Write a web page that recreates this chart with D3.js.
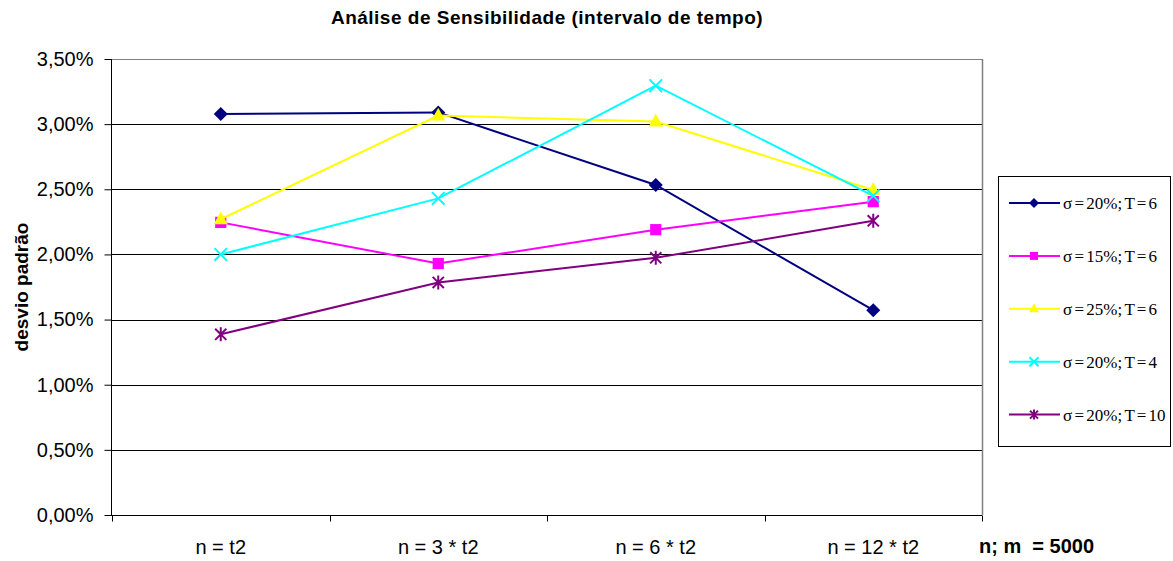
<!DOCTYPE html>
<html>
<head>
<meta charset="utf-8">
<script src="https://cdn.jsdelivr.net/npm/d3@7"></script>
<style>
  html, body { margin: 0; padding: 0; background: #fff; }
  svg { display: block; font-family: Arial, "Liberation Sans", sans-serif; }
</style>
</head>
<body>
<svg id="chart" width="1173" height="561"></svg>
<script>
// Categories along the x axis
const categories = ["n = t2", "n = 3 * t2", "n = 6 * t2", "n = 12 * t2"];

// Standard deviation per series (fractions)
const seriesNames = ["σ = 20%; T = 6", "σ = 15%; T = 6", "σ = 25%; T = 6", "σ = 20%; T = 4", "σ = 20%; T = 10"];
const s20T6  = [0.03077, 0.03090, 0.02533, 0.01572];
const s15T6  = [0.02246, 0.01930, 0.02190, 0.02405];
const s25T6  = [0.02270, 0.03066, 0.03020, 0.02495];
const s20T4  = [0.02000, 0.02430, 0.03295, 0.02450];
const s20T10 = [0.01387, 0.01785, 0.01974, 0.02258];

const yTicks = [0, 0.005, 0.01, 0.015, 0.02, 0.025, 0.03, 0.035];

const colors  = ["#000080", "#FF00FF", "#FFFF00", "#00FFFF", "#800080"];
const symbols = ["diamond", "square", "triangle", "x", "star"];
const seriesValues = [s20T6, s15T6, s25T6, s20T4, s20T10];

const svg = d3.select("#chart");
const plot = { left: 112, right: 982, top: 59, bottom: 515 };

const x = d3.scaleBand().domain(categories).range([plot.left, plot.right]).padding(0);
const y = d3.scaleLinear().domain([0, 0.035]).range([plot.bottom, plot.top]);
const cx = c => x(c) + x.bandwidth() / 2;

// Title
svg.append("text")
  .attr("x", 547).attr("y", 24)
  .attr("text-anchor", "middle")
  .style("font-size", "19px").style("font-weight", "bold")
  .style("letter-spacing", "0.5px")
  .text("Análise de Sensibilidade (intervalo de tempo)");

// Gridlines
svg.append("g")
  .selectAll("line")
  .data(yTicks.slice(1))
  .join("line")
  .attr("x1", plot.left).attr("x2", plot.right)
  .attr("y1", d => Math.round(y(d)) + 0.5).attr("y2", d => Math.round(y(d)) + 0.5)
  .attr("stroke", d => d === 0.035 ? "#808080" : "#000")
  .attr("stroke-width", 1);

// Right border of plot area
svg.append("line")
  .attr("x1", plot.right + 0.5).attr("x2", plot.right + 0.5)
  .attr("y1", plot.top).attr("y2", plot.bottom)
  .attr("stroke", "#808080").attr("stroke-width", 1.5);

// Y axis
const fmt = d => (d * 100).toFixed(2).replace(".", ",") + "%";
const yAxis = svg.append("g")
  .attr("transform", `translate(${plot.left - 0.5},0)`)
  .call(d3.axisLeft(y).tickValues(yTicks).tickFormat(fmt).tickSize(7).tickPadding(11));
yAxis.select(".domain").attr("stroke", "#000").attr("d", `M0,${plot.top}V${plot.bottom}`);
yAxis.selectAll(".tick line").attr("stroke", "#000");
yAxis.selectAll(".tick text")
  .attr("fill", "#000")
  .style("font-size", "20px")
  .style("font-family", "Arial, 'Liberation Sans', sans-serif");

// X axis (ticks at category boundaries)
const xAxis = svg.append("g")
  .attr("transform", `translate(0,${plot.bottom + 0.5})`);
xAxis.append("line")
  .attr("x1", plot.left - 7).attr("x2", plot.right)
  .attr("stroke", "#000");
xAxis.selectAll("line.tk")
  .data(categories.concat(["end"]))
  .join("line")
  .attr("class", "tk")
  .attr("x1", (d, i) => i < categories.length ? Math.round(x(d)) + 0.5 : plot.right + 0.5)
  .attr("x2", (d, i) => i < categories.length ? Math.round(x(d)) + 0.5 : plot.right + 0.5)
  .attr("y1", 0).attr("y2", 6)
  .attr("stroke", "#000");
xAxis.selectAll("text")
  .data(categories)
  .join("text")
  .attr("x", d => cx(d))
  .attr("y", 38)
  .attr("text-anchor", "middle")
  .style("font-size", "20px")
  .text(d => d);

// X axis title
svg.append("text")
  .attr("x", 979).attr("y", 553)
  .style("font-size", "20px").style("font-weight", "bold")
  .style("white-space", "pre")
  .text("n; m  = 5000");

// Y axis title
svg.append("text")
  .attr("transform", `translate(28,${(plot.top + plot.bottom) / 2}) rotate(-90)`)
  .attr("text-anchor", "middle")
  .style("font-size", "19px").style("font-weight", "bold")
  .text("desvio padrão");

// Marker drawing
function drawMarker(g, type, color, size) {
  const h = size / 2;
  if (type === "diamond") {
    g.append("path").attr("d", `M0,${-h}L${h},0L0,${h}L${-h},0Z`).attr("fill", color);
  } else if (type === "square") {
    g.append("rect").attr("x", -h * 0.8).attr("y", -h * 0.8).attr("width", h * 1.6).attr("height", h * 1.6).attr("fill", color);
  } else if (type === "triangle") {
    g.append("path").attr("d", `M0,${-h * 1.1}L${h},${h * 0.7}L${-h},${h * 0.7}Z`).attr("fill", color);
  } else if (type === "x") {
    const k = h * 0.9;
    g.append("path").attr("d", `M${-k},${-k}L${k},${k}M${-k},${k}L${k},${-k}`)
      .attr("stroke", color).attr("stroke-width", 2).attr("fill", "none");
  } else if (type === "star") {
    const k = h * 0.8;
    g.append("path").attr("d", `M${-k},${-k}L${k},${k}M${-k},${k}L${k},${-k}M0,${-h}L0,${h}`)
      .attr("stroke", color).attr("stroke-width", 2).attr("fill", "none");
  }
}

// Series lines and markers
const line = d3.line().x((d, i) => cx(categories[i])).y(d => y(d));
seriesValues.forEach((vals, si) => {
  const g = svg.append("g");
  g.append("path")
    .datum(vals)
    .attr("d", line)
    .attr("fill", "none")
    .attr("stroke", colors[si])
    .attr("stroke-width", 2);
  vals.forEach((v, i) => {
    const m = g.append("g").attr("transform", `translate(${cx(categories[i])},${y(v)})`);
    drawMarker(m, symbols[si], colors[si], 14);
  });
});

// Legend
const legend = svg.append("g");
legend.append("rect")
  .attr("x", 998.5).attr("y", 176.5).attr("width", 172).attr("height", 270)
  .attr("fill", "#fff").attr("stroke", "#000").attr("stroke-width", 1);
seriesNames.forEach((name, si) => {
  const ly = 203 + si * 52.9;
  const row = legend.append("g");
  row.append("line")
    .attr("x1", 1009).attr("x2", 1060)
    .attr("y1", ly).attr("y2", ly)
    .attr("stroke", colors[si]).attr("stroke-width", 2);
  const m = row.append("g").attr("transform", `translate(1034,${ly})`);
  drawMarker(m, symbols[si], colors[si], 10);
  row.append("text")
    .attr("x", 1063).attr("y", ly + 6)
    .style("font-family", "'Liberation Serif', 'Times New Roman', serif")
    .style("font-size", "17px")
    .style("word-spacing", "-2px")
    .text(name);
});
</script>
</body>
</html>
